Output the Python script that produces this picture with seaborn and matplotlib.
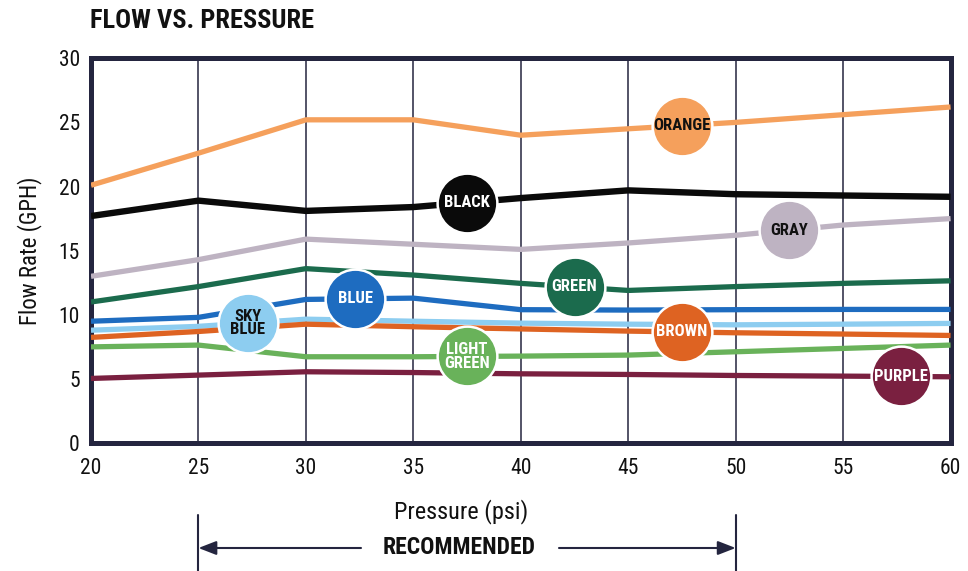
import numpy as np
import pandas as pd
import seaborn as sns
import matplotlib.pyplot as plt

sns.set_theme(style="white")

NARROW = ["Roboto Condensed", "Barlow Condensed", "DejaVu Sans"]
plt.rcParams["font.family"] = NARROW

# Pressure (psi) and flow rate (GPH) for each emitter colour
pressure = [20, 25, 30, 35, 40, 45, 50, 55, 60]
series_names = ["ORANGE", "BLACK", "GRAY", "GREEN", "BLUE", "SKY BLUE", "BROWN", "LIGHT GREEN", "PURPLE"]
orange = [20.1, 22.6, 25.2, 25.2, 24.0, 24.5, 25.0, 25.6, 26.2]
black = [17.7, 18.9, 18.1, 18.4, 19.1, 19.7, 19.4, 19.3, 19.2]
gray = [13.0, 14.3, 15.9, 15.5, 15.1, 15.6, 16.2, 17.0, 17.5]
green = [11.0, 12.2, 13.6, 13.1, 12.45, 11.9, 12.2, 12.45, 12.65]
blue = [9.5, 9.8, 11.2, 11.3, 10.4, 10.37, 10.4, 10.42, 10.42]
sky_blue = [8.8, 9.1, 9.66, 9.5, 9.35, 9.27, 9.22, 9.27, 9.33]
brown = [8.24, 8.7, 9.27, 9.07, 8.9, 8.73, 8.6, 8.5, 8.39]
light_green = [7.5, 7.64, 6.73, 6.73, 6.78, 6.86, 7.12, 7.38, 7.64]
purple = [5.04, 5.3, 5.56, 5.5, 5.4, 5.35, 5.27, 5.22, 5.17]

# Where each colour's badge sits along the pressure axis
badge_pressure = [47.5, 37.5, 52.5, 42.5, 32.3, 27.3, 47.5, 37.5, 57.7]

colors = ["#F5A05C", "#0A0A0A", "#BEB3C2", "#1B6B4D", "#1E6CC0",
          "#8DCDF0", "#DE6322", "#69B25A", "#7A2040"]
text_colors = ["#111111", "#FFFFFF", "#111111", "#FFFFFF", "#FFFFFF",
               "#111111", "#FFFFFF", "#FFFFFF", "#FFFFFF"]
badge_text = ["ORANGE", "BLACK", "GRAY", "GREEN", "BLUE", "SKY\nBLUE", "BROWN", "LIGHT\nGREEN", "PURPLE"]

values = [orange, black, gray, green, blue, sky_blue, brown, light_green, purple]
df = pd.DataFrame({
    "Pressure": np.tile(pressure, len(series_names)),
    "Flow": np.concatenate(values),
    "Series": np.repeat(series_names, len(pressure)),
})

frame_color = "#24253F"

fig = plt.figure(figsize=(9.68, 5.71), dpi=100)
ax = fig.add_axes([0.094, 0.224, 0.888, 0.674])

# Vertical grid lines
for x in range(25, 60, 5):
    ax.axvline(x, color=frame_color, lw=1.1, zorder=1)

line_widths = [3.8, 4.6, 3.8, 3.8, 3.8, 3.8, 3.8, 3.8, 3.8]
sns.lineplot(data=df, x="Pressure", y="Flow", hue="Series", hue_order=series_names,
             palette=dict(zip(series_names, colors)), linewidth=3.8, legend=False,
             ax=ax, zorder=3)
for line, lw in zip(ax.lines[-len(series_names):], line_widths):
    line.set_linewidth(lw)
    line.set_solid_capstyle("butt")

# Colour badges sitting on each curve
for name, bx, col, tcol, txt, vals in zip(series_names, badge_pressure, colors,
                                          text_colors, badge_text, values):
    by = float(np.interp(bx, pressure, vals))
    ax.scatter([bx], [by], s=1850, color=col, edgecolor="white", linewidth=1.8, zorder=5)
    ax.text(bx, by, txt, ha="center", va="center", color=tcol, fontsize=12,
            fontweight="bold", linespacing=0.88, zorder=6, family=NARROW)

ax.set_xlim(20, 60)
ax.set_ylim(0, 30)
ax.set_xticks(range(20, 61, 5))
ax.set_yticks(range(0, 31, 5))
ax.tick_params(axis="both", length=0, labelsize=15.5, labelcolor="#111111")
ax.tick_params(axis="x", pad=11)
ax.tick_params(axis="y", pad=8)
for s in ax.spines.values():
    s.set_visible(True)
    s.set_color(frame_color)
    s.set_linewidth(3.6)
ax.set_xlabel("")
ax.set_ylabel("Flow Rate (GPH)", fontsize=16.5, color="#111111", labelpad=12)

fig.text(0.093, 1 - 21 / 571, "FLOW VS. PRESSURE", fontsize=19, fontweight="bold",
         color="#111111", ha="left", va="center", family=NARROW)
fig.text(461 / 968, 1 - 512 / 571, "Pressure (psi)", fontsize=17.5, color="#111111",
         ha="center", va="center", family=NARROW)

# Recommended pressure range bracket below the axis
x25 = ax.transData.transform((25, 0))[0] / fig.bbox.width
x50 = ax.transData.transform((50, 0))[0] / fig.bbox.width
y_arrow = 1 - 548 / 571
for xb in (x25, x50):
    fig.add_artist(plt.Line2D([xb, xb], [0, 1 - 515 / 571], color=frame_color, lw=1.5,
                              transform=fig.transFigure))
fig.text(459 / 968, y_arrow, "RECOMMENDED", fontsize=17, fontweight="bold",
         color="#111111", ha="center", va="center", family=NARROW)
ax.annotate("", xy=(x25, y_arrow), xytext=(361 / 968, y_arrow), xycoords="figure fraction",
            arrowprops=dict(arrowstyle="-|>,head_length=0.9,head_width=0.35",
                            color=frame_color, lw=1.5, shrinkA=0, shrinkB=0))
ax.annotate("", xy=(x50, y_arrow), xytext=(559 / 968, y_arrow), xycoords="figure fraction",
            arrowprops=dict(arrowstyle="-|>,head_length=0.9,head_width=0.35",
                            color=frame_color, lw=1.5, shrinkA=0, shrinkB=0))

fig.savefig("out.png", dpi=100)
